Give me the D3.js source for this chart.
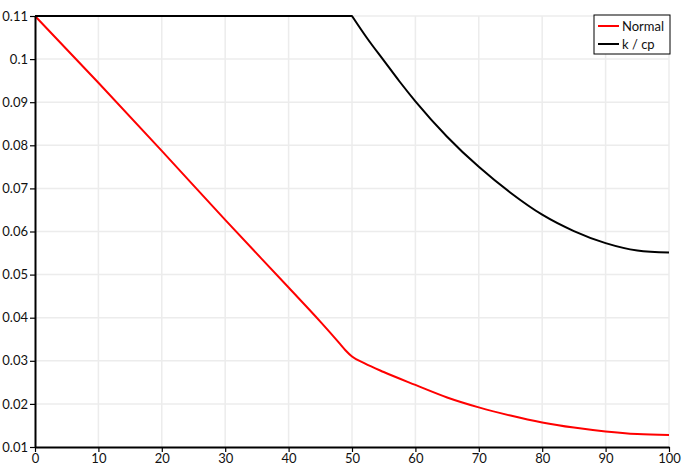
<!DOCTYPE html>
<html>
<head>
<meta charset="utf-8">
<script src="https://cdn.jsdelivr.net/npm/d3@7"></script>
<style>
  body { margin: 0; background: #fff; }
  svg { display: block; font-family: "Lato", "DejaVu Sans", sans-serif; }
</style>
</head>
<body>
<div id="chart"></div>
<script>
const WIDTH = 687;
const HEIGHT = 473;
const MARGIN = { top: 16, right: 18, bottom: 26, left: 35 };

// values
const normalX = [0, 10, 20, 30, 40, 45, 47, 48, 49, 50, 52, 55, 60, 65, 70, 75, 80, 85, 90, 95, 100];
const normalY = [0.110, 0.0945, 0.0787, 0.0627, 0.0470, 0.0391, 0.0358, 0.0341, 0.0324, 0.0310, 0.0294, 0.0274, 0.0244, 0.0215, 0.0192, 0.0173, 0.0157, 0.0145, 0.0136, 0.0130, 0.0128];
const kcpX = [0, 50, 52.5, 55, 57.5, 60, 65, 70, 75, 80, 85, 90, 95, 100];
const kcpY = [0.110, 0.110, 0.1046, 0.0997, 0.0948, 0.0902, 0.0820, 0.0750, 0.0690, 0.0639, 0.0601, 0.0573, 0.0556, 0.0551];
const xTicks = [0, 10, 20, 30, 40, 50, 60, 70, 80, 90, 100];
const yTicks = [0.01, 0.02, 0.03, 0.04, 0.05, 0.06, 0.07, 0.08, 0.09, 0.1, 0.11];
const seriesNames = ['Normal', 'k / cp'];
const seriesColors = ['#ff0000', '#000000'];

const series = [
  normalX.map((x, i) => ({ x: x, y: normalY[i] })),
  kcpX.map((x, i) => ({ x: x, y: kcpY[i] }))
];

const svg = d3.select('#chart')
              .append('svg')
              .attr('width', WIDTH)
              .attr('height', HEIGHT);

const xScale = d3.scaleLinear()
                 .domain([0, 100])
                 .range([MARGIN.left, WIDTH - MARGIN.right]);
const yScale = d3.scaleLinear()
                 .domain([0.01, 0.11])
                 .range([HEIGHT - MARGIN.bottom, MARGIN.top]);

// grid lines
svg.append('g')
   .selectAll('line.vx')
   .data(xTicks.slice(1))
   .enter()
   .append('line')
   .attr('x1', d => xScale(d)).attr('x2', d => xScale(d))
   .attr('y1', yScale(0.01)).attr('y2', yScale(0.11))
   .attr('stroke', '#ececec').attr('stroke-width', 1.5);
svg.append('g')
   .selectAll('line.hy')
   .data(yTicks.slice(1))
   .enter()
   .append('line')
   .attr('x1', xScale(0)).attr('x2', xScale(100))
   .attr('y1', d => yScale(d)).attr('y2', d => yScale(d))
   .attr('stroke', '#ececec').attr('stroke-width', 1.5);

// curves
const smooth = d3.line().x(d => xScale(d.x)).y(d => yScale(d.y)).curve(d3.curveMonotoneX);
const straight = d3.line().x(d => xScale(d.x)).y(d => yScale(d.y));
svg.append('path')
   .datum(series[0])
   .attr('d', smooth)
   .attr('fill', 'none')
   .attr('stroke', seriesColors[0])
   .attr('stroke-width', 2);

// k/cp: flat part straight, then a smooth fall with a sharp corner at 50
const flat = series[1].filter(d => d.x <= 50);
const fall = series[1].filter(d => d.x >= 50);
svg.append('path')
   .attr('d', straight(flat) + smooth(fall).replace(/^M/, 'L'))
   .attr('fill', 'none')
   .attr('stroke', seriesColors[1])
   .attr('stroke-width', 2)
   .attr('stroke-linejoin', 'round');

// axes
const xAxis = d3.axisBottom(xScale).tickValues(xTicks).tickSize(5).tickSizeOuter(0);
const gx = svg.append('g')
              .attr('transform', 'translate(0,' + yScale(0.01) + ')')
              .call(xAxis);
const yAxis = d3.axisLeft(yScale).tickValues(yTicks).tickSize(5).tickSizeOuter(0)
                .tickFormat(d => String(+d.toFixed(2)));
const gy = svg.append('g')
              .attr('transform', 'translate(' + xScale(0) + ',0)')
              .call(yAxis);
[gx, gy].forEach(g => {
  g.select('.domain').attr('stroke', '#000').attr('stroke-width', 2);
  g.selectAll('.tick line').attr('stroke', '#000').attr('stroke-width', 1.2);
  g.selectAll('.tick text').attr('fill', '#111').style('font-size', '13px')
   .style('font-family', '"Lato", "DejaVu Sans", sans-serif');
});
gx.selectAll('.tick text').attr('dy', '0.9em').attr('y', 4);
gy.selectAll('.tick text').attr('x', -7);

// legend
const legend = svg.append('g').attr('transform', 'translate(594,15)');
legend.append('rect')
      .attr('width', 76).attr('height', 39)
      .attr('fill', '#fff').attr('stroke', '#000').attr('stroke-width', 1);
seriesNames.forEach((name, i) => {
  const y = 11 + i * 18;
  legend.append('line')
        .attr('x1', 4).attr('x2', 25).attr('y1', y).attr('y2', y)
        .attr('stroke', seriesColors[i]).attr('stroke-width', 2);
  legend.append('text')
        .attr('x', 28).attr('y', y).attr('dy', '0.35em')
        .style('font-size', '13px').attr('fill', '#111')
        .text(name);
});
</script>
</body>
</html>
